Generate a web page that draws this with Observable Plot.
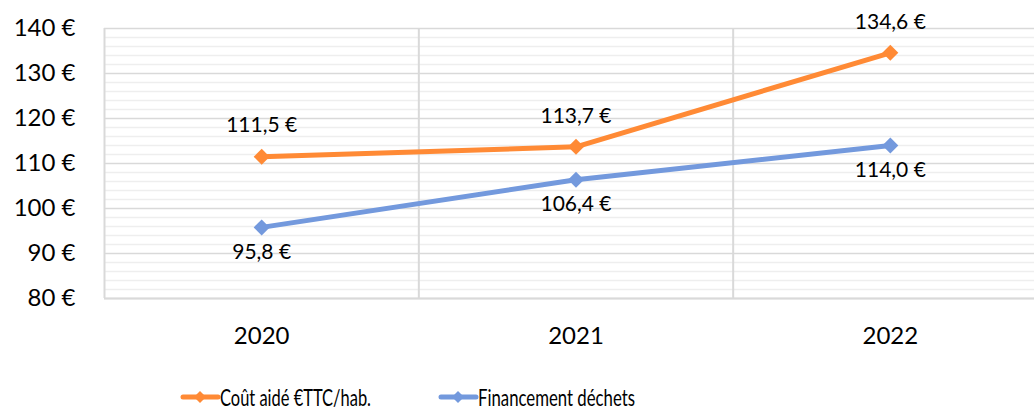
<!DOCTYPE html>
<html>
<head>
<meta charset="utf-8">
<script src="https://cdn.jsdelivr.net/npm/d3@7"></script>
<script src="https://cdn.jsdelivr.net/npm/@observablehq/plot@0.6"></script>
<style>
  html, body { margin: 0; padding: 0; background: #fff; }
  #wrap { position: relative; width: 1034px; height: 410px; font-family: Lato, sans-serif; }
  #legend { position: absolute; left: 0; top: 374px; height: 36px; width: 1034px; }
  #legend svg { display: block; }
</style>
</head>
<body>
<div id="wrap"><div id="chart"></div><div id="legend"></div></div>
<script>
// ---- data ----
const years = [2020, 2021, 2022];
const seriesNames = ["Coût aidé €TTC/hab.", "Financement déchets"];
const coutAide = [111.5, 113.7, 134.6];
const financement = [95.8, 106.4, 114.0];
const yTicks = [80, 90, 100, 110, 120, 130, 140];
const yMinor = [82, 84, 86, 88, 92, 94, 96, 98, 102, 104, 106, 108, 112, 114, 116, 118, 122, 124, 126, 128, 132, 134, 136, 138];
const colors = ["#FF8A35", "#7399DD"];

const rows = [
  ...years.map((y, i) => ({year: y, value: coutAide[i], series: seriesNames[0]})),
  ...years.map((y, i) => ({year: y, value: financement[i], series: seriesNames[1]}))
];
const fmt = v => v.toFixed(1).replace(".", ",") + "\u00A0€";
const boundaries = [years[0] - 0.5, ...years.slice(0, -1).map(y => y + 0.5)];

const plot = Plot.plot({
  width: 1034,
  height: 374,
  marginLeft: 104,
  marginTop: 28,
  marginBottom: 76,
  marginRight: 0,
  style: {fontFamily: "Lato, sans-serif", background: "#fff", color: "#000"},
  x: {domain: [years[0] - 0.5, years[years.length - 1] + 0.5], range: [104, 1047]},
  y: {domain: [80, 140]},
  color: {domain: seriesNames, range: colors},
  marks: [
    Plot.ruleY(yMinor, {stroke: "#EEEEEE", strokeWidth: 1.5}),
    Plot.ruleY(yTicks, {stroke: "#D9D9D9", strokeWidth: 1.5}),
    Plot.ruleX(boundaries, {stroke: "#D9D9D9", strokeWidth: 2}),
    Plot.ruleY([80], {stroke: "#D9D9D9", strokeWidth: 2}),
    Plot.axisY({ticks: yTicks, tickSize: 0, tickPadding: 29, fontSize: 24, tickFormat: d => d + "\u00A0€", label: null}),
    Plot.axisX({ticks: years, tickSize: 0, tickPadding: 28, fontSize: 24, tickFormat: d => String(d), label: null}),
    Plot.line(rows, {x: "year", y: "value", z: "series", stroke: "series", strokeWidth: 5, strokeLinejoin: "round"}),
    Plot.dot(rows, {x: "year", y: "value", fill: "series", symbol: "diamond2", r: 7.2, stroke: null}),
    Plot.text(rows.filter(d => d.series === seriesNames[0]), {x: "year", y: "value", text: d => fmt(d.value), dy: -31, fontSize: 21, fill: "#000"}),
    Plot.text(rows.filter(d => d.series === seriesNames[1]), {x: "year", y: "value", text: d => fmt(d.value), dy: 25, fontSize: 21, fill: "#000"})
  ]
});
document.getElementById("chart").appendChild(plot);

// ---- legend ----
const legendLeft = [183, 441];
const legendTextWidth = [151, 157];
const cy = 23;
const items = seriesNames.map((name, i) => {
  const x = legendLeft[i];
  return `<line x1="${x}" y1="${cy}" x2="${x + 35}" y2="${cy}" stroke="${colors[i]}" stroke-width="5" stroke-linecap="round"/>` +
    `<path d="M${x + 17},${cy - 6} L${x + 23},${cy} L${x + 17},${cy + 6} L${x + 11},${cy} Z" fill="${colors[i]}"/>` +
    `<text x="${x + 37}" y="${cy}" dy="0.36em" font-family="Lato, sans-serif" font-size="24" fill="#000" textLength="${legendTextWidth[i]}" lengthAdjust="spacingAndGlyphs">${name}</text>`;
}).join("");
document.getElementById("legend").innerHTML = `<svg width="1034" height="36">${items}</svg>`;
</script>
</body>
</html>
